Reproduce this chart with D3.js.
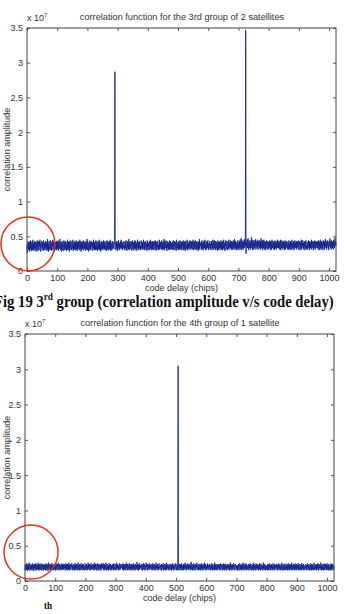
<!DOCTYPE html>
<html>
<head>
<meta charset="utf-8">
<script src="https://cdn.jsdelivr.net/npm/d3@7"></script>
<style>
html,body{margin:0;padding:0;background:#fff;}
svg{display:block;}
</style>
</head>
<body>
<svg id="chart" width="344" height="614"></svg>
<script>
// ---------- DATA (correlation amplitude in units of 10^5, i.e. 100 = 1 x 10^7) ----------
const xTicks = [0,100,200,300,400,500,600,700,800,900,1000];
const yTicks = [0,50,100,150,200,250,300,350];
const yTickLabels = ["0","0.5","1","1.5","2","2.5","3","3.5"];

const title3 = "correlation function for the 3rd group of 2 satellites";
const title4 = "correlation function for the 4th group of 1 satellite";
const xLabel = "code delay (chips)";
const yLabel = "correlation amplitude";

// 3rd group: noise floor for code delays 0..1023
const noise3 = [
38,26,29,42,32,39,30,43,35,28,41,33,44,31,38,29,42,34,30,45,33,38,29,41,32,43,36,30,39,42,28,34,
41,31,44,35,29,38,43,33,30,42,36,45,32,28,40,34,37,43,30,35,42,32,29,44,38,33,40,30,36,43,31,39,
34,42,29,36,46,31,39,28,41,43,33,30,38,44,35,31,42,29,34,40,36,45,30,38,32,43,34,28,40,36,42,31,
39,30,43,35,31,42,33,44,29,38,41,32,36,46,34,30,42,38,28,35,43,31,40,34,29,38,44,36,31,42,30,37,
43,33,38,29,41,31,45,35,30,42,33,39,28,43,36,31,40,44,34,30,38,42,32,35,45,29,38,33,41,31,43,36,
30,41,33,44,31,39,29,42,36,32,43,34,40,30,38,45,31,36,42,28,39,33,43,31,41,35,30,44,34,38,32,42,
36,29,41,34,43,31,39,46,30,36,42,33,28,40,38,31,44,35,30,42,34,39,43,32,29,41,36,33,45,31,38,30,
42,33,38,30,44,35,31,41,43,29,38,33,42,31,36,45,30,40,34,38,28,43,36,31,42,33,41,30,38,44,32,36,
40,31,43,36,30,38,42,33,29,44,36,31,41,38,30,43,34,42,31,36,45,29,38,40,33,30,43,35,32,42,38,34,
32,38,44,36,42,33,30,41,36,43,31,39,29,42,34,44,36,31,40,30,38,43,33,36,45,32,38,42,30,36,40,33,
38,43,31,36,30,42,33,40,44,31,38,29,36,43,34,40,31,46,36,30,42,38,33,32,43,36,40,29,38,44,34,31,
42,36,30,40,33,44,38,31,43,35,29,40,34,38,45,31,36,42,30,38,33,43,40,31,36,30,44,38,33,42,31,40,
34,40,45,31,38,30,42,36,43,33,31,40,38,29,44,35,42,31,34,40,30,43,38,36,31,45,33,42,38,30,36,43,
31,38,42,34,30,43,36,40,31,44,38,33,29,42,36,31,40,43,34,38,30,36,45,31,40,34,42,38,31,36,44,30,
40,33,36,43,31,38,46,30,42,35,33,40,44,31,38,29,43,36,33,42,31,40,38,30,44,36,31,43,34,38,40,31,
36,42,31,38,44,33,30,40,36,43,31,38,42,33,29,45,36,31,40,38,33,43,30,36,42,31,40,44,33,38,30,42,
38,31,43,36,40,30,33,44,38,31,42,36,29,40,43,33,38,31,45,36,30,42,33,40,38,31,43,36,44,33,31,40,
33,43,36,31,42,38,45,30,36,40,33,43,31,38,44,36,30,42,34,40,31,38,43,29,36,42,33,46,31,38,40,36,
42,31,38,44,33,40,30,36,43,31,38,42,33,45,36,30,40,38,31,43,36,33,42,44,31,38,30,40,36,43,33,38,
31,40,36,43,30,38,42,33,45,31,36,40,44,33,38,30,43,36,31,42,38,33,40,29,44,36,31,42,38,33,43,30,
40,33,44,36,31,42,38,30,43,36,33,45,31,40,38,29,42,36,44,33,31,40,43,36,30,38,42,33,45,31,36,40,
36,44,33,40,31,43,38,30,42,36,31,44,40,33,38,46,31,36,43,33,40,30,38,42,36,31,44,33,40,38,30,43,
33,42,45,36,31,47,38,30,43,40,33,44,36,31,42,38,46,33,40,36,43,25,31,42,38,45,33,40,47,36,30,43,
40,33,44,38,31,42,36,49,33,43,38,30,45,36,40,31,44,38,33,42,36,46,31,40,36,43,33,38,45,31,42,36,
38,44,33,40,31,43,36,47,33,42,38,30,44,36,40,33,45,31,38,43,36,30,42,33,40,44,36,31,43,38,33,42,
31,40,36,44,33,38,43,30,42,36,31,45,38,33,40,43,36,31,42,38,30,44,33,40,36,43,31,38,42,33,45,36,
40,33,43,36,31,42,38,45,30,36,40,33,44,38,31,42,36,43,33,40,30,38,44,36,31,42,33,40,43,36,38,31,
42,36,31,44,38,33,40,30,43,36,42,31,38,45,33,40,36,30,43,38,33,42,31,44,36,40,33,38,43,31,36,42,
33,40,44,36,31,42,38,43,30,36,40,33,45,31,38,42,36,44,33,40,31,38,43,36,30,42,33,40,44,38,31,36,
38,31,42,36,44,33,40,30,43,38,33,42,36,31,45,38,33,40,43,36,30,42,38,33,44,36,31,40,43,33,38,42,
36,43,33,40,31,44,38,36,42,30,40,45,33,38,31,43,36,42,33,40,30,44,38,36,43,31,40,33,46,36,38,42,
31,40,44,36,42,33,38,30,43,36,40,47,33,38,42,31,44,36,40,33,43,38,31,45,36,42,33,40,48,38,36,42
];
const peakDelays3 = [291, 724];
const peakValues3 = [287, 347];

// 4th group: noise floor for code delays 0..1023
const noise4 = [
22,15,24,18,21,16,25,20,14,23,17,24,16,21,26,18,15,22,20,16,24,17,22,15,20,25,16,18,23,14,20,24,
18,23,16,21,25,15,19,24,20,16,22,18,26,16,21,15,24,18,23,20,16,25,18,15,22,20,24,16,19,23,15,21,
24,16,21,18,23,15,25,20,16,24,18,22,14,21,26,18,16,23,20,24,15,19,23,20,16,25,18,21,15,24,22,16,
21,18,24,16,23,15,20,25,18,16,23,20,24,15,18,26,21,16,23,18,24,16,21,15,22,18,25,20,16,23,18,24,
16,23,18,21,24,15,22,18,25,16,20,23,15,24,18,21,16,26,18,22,15,20,24,16,18,23,20,25,16,19,22,15,
22,18,24,16,21,15,25,18,23,16,20,24,18,15,22,20,26,16,19,24,21,15,23,18,16,25,20,18,22,15,24,20,
18,24,16,22,20,15,18,25,23,16,21,18,24,15,22,20,16,26,18,23,20,16,24,18,15,22,20,25,16,21,18,23,
20,16,24,18,22,15,21,26,16,23,18,24,20,15,18,22,25,16,21,24,18,15,23,20,16,24,18,22,15,21,25,18,
23,18,21,25,16,22,15,24,18,20,16,23,26,18,15,21,24,16,22,18,20,15,25,18,23,16,21,24,18,15,22,20,
16,24,18,21,23,15,25,18,20,16,24,22,18,15,21,26,16,23,18,24,20,16,22,15,18,25,20,16,23,18,24,20,
20,18,22,16,25,20,15,24,18,23,16,21,24,18,15,22,26,18,20,16,24,15,22,18,20,25,16,23,18,21,15,24,
18,23,16,24,20,15,22,18,25,16,21,23,18,15,24,20,16,22,18,27,20,16,23,15,24,18,21,16,25,18,22,20,
22,16,21,24,18,15,23,20,25,16,18,24,20,15,22,18,16,26,20,23,18,15,24,20,16,22,18,25,20,16,23,18,
20,24,18,16,22,15,21,25,18,23,16,20,24,18,15,22,20,16,26,18,23,20,15,24,18,21,16,22,25,18,20,16,
18,23,20,15,24,18,16,22,20,25,18,15,23,20,16,24,18,22,15,21,26,16,23,18,20,24,16,18,22,15,21,24,
22,18,16,24,20,15,23,18,25,20,16,22,18,15,24,20,18,16,22,25,20,18,15,24,22,16,21,18,23,15,20,24,
20,16,23,18,24,15,21,25,18,22,16,20,15,24,18,23,20,16,26,18,21,24,15,22,18,16,20,25,18,23,16,21,
18,24,20,15,22,18,27,16,21,24,18,15,23,20,16,25,18,22,20,15,24,18,16,23,20,26,18,16,22,20,15,24,
22,18,16,24,20,15,23,18,25,16,21,23,18,15,24,20,16,22,26,18,21,16,24,15,22,18,20,16,25,18,23,20,
16,23,20,24,18,15,22,20,16,25,18,23,15,21,24,18,16,22,20,15,26,18,23,16,20,24,18,15,22,20,16,24,
20,18,24,16,22,15,21,25,18,16,23,20,24,15,18,22,20,16,25,18,23,15,21,24,18,16,22,20,15,24,18,22,
18,23,16,21,24,15,22,18,26,16,20,23,18,15,24,20,16,22,18,25,20,16,15,23,20,24,18,16,22,18,21,15,
22,20,16,24,18,15,23,25,20,16,22,18,24,15,21,18,23,16,26,20,18,15,24,22,16,21,18,25,15,23,20,18,
20,16,23,18,24,15,21,22,18,25,16,20,24,18,15,22,20,16,23,18,26,15,21,24,18,16,22,20,15,25,18,21,
16,23,18,24,20,15,22,18,16,25,20,23,15,18,24,20,16,22,18,21,15,26,18,23,16,20,24,18,15,22,20,16,
22,18,21,15,24,18,16,23,20,25,18,15,22,16,21,24,18,23,15,20,16,25,18,21,22,15,24,18,16,23,20,18,
18,24,16,21,23,15,18,25,20,16,22,18,24,15,21,22,18,16,26,20,18,15,23,24,16,21,18,22,15,25,20,16,
20,16,23,18,24,15,21,18,25,16,22,20,15,24,18,23,16,21,18,26,15,22,20,16,24,18,23,15,21,18,25,16,
23,18,15,24,20,16,22,18,25,20,16,23,15,18,24,20,16,22,18,15,25,20,18,23,16,21,24,15,18,22,20,16,
18,24,20,16,22,15,18,25,20,23,16,18,24,15,21,22,18,16,25,20,15,23,18,24,16,20,22,15,18,26,20,16,
20,16,23,18,24,15,21,22,18,25,16,20,15,24,18,23,20,16,18,26,20,15,22,18,24,16,21,22,15,18,25,20,
16,23,18,24,20,15,22,18,25,16,21,23,18,15,24,20,16,22,18,21,15,25,18,23,16,20,24,18,15,22,20,18
];
const peakDelays4 = [507];
const peakValues4 = [305];

// ---------- DRAWING ----------
const svg = d3.select("#chart");
const FONT = "'Liberation Sans', Arial, Helvetica, sans-serif";
const SERIF = "'Liberation Serif', 'Times New Roman', serif";

function panel(cfg) {
  const x = d3.scaleLinear().domain([0, 1023]).range([cfg.left, cfg.right]);
  const y = d3.scaleLinear().domain([0, 350]).range([cfg.bottom, cfg.top]);
  const values = cfg.noise.map((v, i) => {
    const k = cfg.peakDelays.indexOf(i);
    return k >= 0 ? cfg.peakValues[k] : v;
  });
  const g = svg.append("g");

  // data line
  g.append("path")
    .datum(values)
    .attr("fill", "none")
    .attr("stroke", "#15258e")
    .attr("stroke-width", 0.9)
    .attr("d", d3.line().x((d, i) => x(i)).y(d => y(d)));

  // axes with inward ticks
  const styleAxis = sel => {
    sel.select(".domain").remove();
    sel.selectAll(".tick line").attr("stroke", "#555");
    sel.selectAll(".tick text").attr("fill", "#333")
      .style("font-family", FONT).style("font-size", "9px");
  };
  g.append("g").attr("transform", `translate(0,${cfg.bottom})`)
    .call(d3.axisBottom(x).tickValues(xTicks).tickSizeInner(-3).tickSizeOuter(0).tickPadding(4)
      .tickFormat(d => String(d)))
    .call(styleAxis);
  g.append("g").attr("transform", `translate(0,${cfg.top})`)
    .call(d3.axisTop(x).tickValues(xTicks).tickSizeInner(-3).tickSizeOuter(0).tickFormat(""))
    .call(styleAxis);
  g.append("g").attr("transform", `translate(${cfg.left},0)`)
    .call(d3.axisLeft(y).tickValues(yTicks).tickSizeInner(-3).tickSizeOuter(0).tickPadding(4)
      .tickFormat((d, i) => yTickLabels[i]))
    .call(styleAxis);
  g.append("g").attr("transform", `translate(${cfg.right},0)`)
    .call(d3.axisRight(y).tickValues(yTicks).tickSizeInner(-3).tickSizeOuter(0).tickFormat(""))
    .call(styleAxis);

  // box
  g.append("rect")
    .attr("x", cfg.left).attr("y", cfg.top)
    .attr("width", cfg.right - cfg.left).attr("height", cfg.bottom - cfg.top)
    .attr("fill", "none").attr("stroke", "#444").attr("stroke-width", 1);

  // exponent
  const ex = g.append("text").attr("x", cfg.left).attr("y", cfg.top - 7)
    .style("font-family", FONT).style("font-size", "9px").attr("fill", "#333");
  ex.append("tspan").text("x 10");
  ex.append("tspan").attr("dy", -4).style("font-size", "6px").text("7");

  // title
  g.append("text").attr("x", (cfg.left + cfg.right) / 2 + 0.5).attr("y", cfg.top - 8)
    .attr("text-anchor", "middle")
    .style("font-family", FONT).style("font-size", "9.2px").attr("fill", "#333")
    .text(cfg.title);

  // axis labels
  g.append("text").attr("x", (cfg.left + cfg.right) / 2).attr("y", cfg.bottom + 20)
    .attr("text-anchor", "middle")
    .style("font-family", FONT).style("font-size", "9px").attr("fill", "#333")
    .text(xLabel);
  g.append("text")
    .attr("transform", `translate(10,${(cfg.top + cfg.bottom) / 2}) rotate(-90)`)
    .attr("text-anchor", "middle")
    .style("font-family", FONT).style("font-size", "9px").attr("fill", "#333")
    .text(yLabel);

  // red annotation circle
  g.append("circle")
    .attr("cx", x(cfg.circle[0])).attr("cy", y(cfg.circle[1])).attr("r", 27)
    .attr("fill", "none").attr("stroke", "#e3321f").attr("stroke-width", 1.5);

  // caption (bold serif, below the panel; horizontally fitted to the page width)
  const cap = g.append("text").attr("x", 0).attr("y", 0)
    .style("font-family", SERIF)
    .style("font-weight", "bold").style("font-size", "16px").attr("fill", "#111");
  cap.append("tspan").text(cfg.caption[0]);
  cap.append("tspan").attr("dy", cfg.supShift).style("font-size", "10px").text(cfg.caption[1]);
  cap.append("tspan").attr("dy", -cfg.supShift).text(cfg.caption[2]);
  const w = cap.node().getComputedTextLength();
  const sx = 340 / w;
  cap.attr("transform", `translate(-6,${cfg.bottom + cfg.capOffset}) scale(${sx},1)`);
}

panel({left: 27, right: 336, top: 28, bottom: 271,
  noise: noise3, peakDelays: peakDelays3, peakValues: peakValues3,
  title: title3, circle: [3, 39], capOffset: 36, supShift: -7,
  caption: ["Fig 19 3", "rd", " group (correlation amplitude v/s code delay)"]});
panel({left: 25, right: 334, top: 334, bottom: 581,
  noise: noise4, peakDelays: peakDelays4, peakValues: peakValues4,
  title: title4, circle: [20, 41], capOffset: 46, supShift: -18,
  caption: ["Fig 20 4", "th", " group (correlation amplitude v/s code delay)"]});
</script>
</body>
</html>
